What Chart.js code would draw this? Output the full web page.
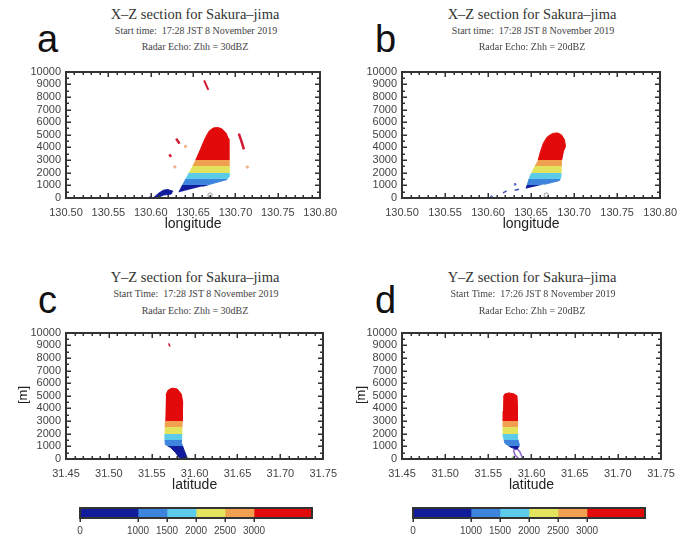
<!DOCTYPE html>
<html>
<head>
<meta charset="utf-8">
<script src="https://cdn.jsdelivr.net/npm/chart.js@4.4.1/dist/chart.umd.min.js"></script>
<style>
  html, body { margin: 0; padding: 0; background: #fff; }
  #page { position: relative; width: 685px; height: 542px; overflow: hidden; font-family: 'Liberation Sans', Arial, sans-serif; color: #222; }
  canvas { position: absolute; }
  .t { position: absolute; white-space: nowrap; transform: translate(-50%, -50%); line-height: 1; }
  .title { font-family: 'Liberation Serif', 'Times New Roman', serif; font-size: 14.5px; color: #333; }
  .sub { font-family: 'Liberation Serif', 'Times New Roman', serif; font-size: 10px; color: #444; }
  .letter { position: absolute; font-size: 38px; line-height: 38px; color: #111; }
  .unit { position: absolute; font-size: 13px; line-height: 1; transform: translate(-50%, -50%) rotate(-90deg); }
</style>
</head>
<body>
<div id="page">
  <canvas id="chart-a" width="345" height="175" style="left:0px;top:60px;"></canvas>
  <canvas id="chart-b" width="345" height="175" style="left:340px;top:60px;"></canvas>
  <canvas id="chart-c" width="345" height="175" style="left:0px;top:321px;"></canvas>
  <canvas id="chart-d" width="345" height="175" style="left:340px;top:321px;"></canvas>
  <canvas id="bar-left" width="290" height="42" style="left:60px;top:500px;"></canvas>
  <canvas id="bar-right" width="290" height="42" style="left:393px;top:500px;"></canvas>

  <div class="letter" style="left:37px;top:20px;">a</div>
  <div class="letter" style="left:375px;top:20px;">b</div>
  <div class="letter" style="left:38px;top:281px;">c</div>
  <div class="letter" style="left:375px;top:281px;">d</div>

  <div class="t title" style="left:195px;top:14px;">X–Z section for Sakura–jima</div>
  <div class="t sub" style="left:196px;top:31px;">Start time:&nbsp; 17:28 JST 8 November 2019</div>
  <div class="t sub" style="left:195px;top:47px;">Radar Echo: Zhh = 30dBZ</div>

  <div class="t title" style="left:532px;top:14px;">X–Z section for Sakura–jima</div>
  <div class="t sub" style="left:533px;top:31px;">Start time:&nbsp; 17:28 JST 8 November 2019</div>
  <div class="t sub" style="left:532px;top:47px;">Radar Echo: Zhh = 20dBZ</div>

  <div class="t title" style="left:195px;top:277px;">Y–Z section for Sakura–jima</div>
  <div class="t sub" style="left:196px;top:294px;">Start Time:&nbsp; 17:28 JST 8 November 2019</div>
  <div class="t sub" style="left:195px;top:311px;">Radar Echo: Zhh = 30dBZ</div>

  <div class="t title" style="left:532px;top:277px;">Y–Z section for Sakura–jima</div>
  <div class="t sub" style="left:533px;top:294px;">Start Time:&nbsp; 17:26 JST 8 November 2019</div>
  <div class="t sub" style="left:532px;top:311px;">Radar Echo: Zhh = 20dBZ</div>

  <div class="unit" style="left:22px;top:395px;">[m]</div>
  <div class="unit" style="left:360px;top:395px;">[m]</div>
</div>

<script>
/* global Chart */

// axis ticks
const lonTicks = [130.50, 130.55, 130.60, 130.65, 130.70, 130.75, 130.80];
const latTicks = [31.45, 31.50, 31.55, 31.60, 31.65, 31.70, 31.75];
const heightTicks = [0, 1000, 2000, 3000, 4000, 5000, 6000, 7000, 8000, 9000, 10000];

// echo height levels (m) and their colours
const echoLevels = [0, 1000, 1500, 2000, 2500, 3000];
const echoColors = ['#111c9c', '#3d84dc', '#5ccbea', '#e2e45e', '#f0a04e', '#e20a0a'];
const colorbarMax = 4000;

// a: X-Z, Zhh = 30dBZ  [longitude, height]
const echoA = [
  [130.6332, 460], [130.6355, 770], [130.6436, 1770], [130.6517, 2770], [130.6587, 3850],
  [130.6645, 4770], [130.6691, 5310], [130.6738, 5540], [130.6795, 5575], [130.6842, 5460],
  [130.6888, 5150], [130.6917, 4690], [130.6923, 4080], [130.6923, 2920], [130.6923, 1690],
  [130.6900, 1460], [130.6610, 920]
];
const groundA = [
  [130.603, 0], [130.609, 360], [130.615, 615], [130.620, 670], [130.626, 540],
  [130.624, 310], [130.615, 230], [130.607, 0]
];
const streaksA = [
  [[130.663, 9300], [130.668, 8550]],
  [[130.630, 4700], [130.634, 4300]],
  [[130.622, 3450], [130.624, 3250]],
  [[130.704, 5100], [130.707, 4500], [130.710, 3850]]
];
const dotsA = [[130.714, 2450], [130.6285, 2460], [130.641, 4080]];
const ringA = [[130.670, 230]];

// b: X-Z, Zhh = 20dBZ
const echoB = [
  [130.6442, 750], [130.6483, 1640], [130.6530, 2310], [130.6580, 2920], [130.6610, 3690],
  [130.6645, 4380], [130.6690, 4850], [130.6750, 5110], [130.6807, 5150], [130.6853, 5000],
  [130.6888, 4610], [130.6900, 4080], [130.6876, 3690], [130.6853, 2920], [130.6847, 1690],
  [130.6830, 1380], [130.6656, 1080]
];
const streaksB = [
  [[130.6173, 410], [130.6216, 560]],
  [[130.6309, 615], [130.6359, 690]]
];
const dotsB = [[130.6315, 1080], [130.6039, 100]];
const ringB = [[130.6676, 230]];

// c: Y-Z, Zhh = 30dBZ  [latitude, height]
const echoC = [
  [31.5666, 5080], [31.5693, 5460], [31.5739, 5610], [31.5797, 5540], [31.5844, 5150],
  [31.5861, 4540], [31.5855, 3000], [31.5849, 1690], [31.5844, 1310], [31.5878, 690],
  [31.5913, 80], [31.5890, 0], [31.5832, 0], [31.5774, 540], [31.5716, 920],
  [31.5658, 1150], [31.5653, 1610], [31.5658, 3000]
];
const streaksC = [[[31.5697, 9150], [31.5713, 8900]]];
const dotsC = [[31.5797, 0]];

// d: Y-Z, Zhh = 20dBZ
const echoD = [
  [31.5673, 4920], [31.5693, 5150], [31.5739, 5230], [31.5797, 5150], [31.5832, 5000],
  [31.5838, 4150], [31.5836, 3000], [31.5838, 1690], [31.5861, 1080], [31.5832, 770],
  [31.5763, 920], [31.5693, 1230], [31.5670, 1850], [31.5670, 3770]
];
const loopD = [
  [31.5790, 690], [31.5832, 850], [31.5867, 540], [31.5901, 0], [31.5855, 0],
  [31.5809, 310], [31.5790, 690]
];
const dotsD = [[31.5790, 50]];

function toXY(points) {
  return points.map(function(p) { return { x: p[0], y: p[1] }; });
}

// hard-edged colour bands by height, built from the y scale
function bandFill(context) {
  const chart = context.chart;
  if (!chart.chartArea) return echoColors[0];
  const y = chart.scales.y;
  const g = chart.ctx.createLinearGradient(0, y.getPixelForValue(0), 0, y.getPixelForValue(10000));
  for (let i = 0; i < echoLevels.length; i++) {
    const lo = echoLevels[i] / 10000;
    const hi = i + 1 < echoLevels.length ? echoLevels[i + 1] / 10000 : 1;
    g.addColorStop(lo, echoColors[i]);
    g.addColorStop(hi, echoColors[i]);
  }
  return g;
}

// plot frame plus inward major/minor ticks on all four sides
const frameTicks = {
  id: 'frameTicks',
  afterDraw: function(chart) {
    const opts = chart.config.options.frame || {};
    const ctx = chart.ctx;
    const a = chart.chartArea;
    const x = chart.scales.x;
    const L = Math.round(a.left), R = Math.round(a.right);
    const T = Math.round(a.top), B = Math.round(a.bottom);
    ctx.save();
    ctx.strokeStyle = '#333';
    ctx.lineWidth = 2;
    ctx.strokeRect(L, T, R - L, B - T);
    ctx.fillStyle = '#333';
    if (opts.ticks) {
      const y = chart.scales.y;
      const nx = Math.round((x.max - x.min) / opts.xMinor);
      for (let i = 0; i <= nx; i++) {
        const px = Math.round(x.getPixelForValue(x.min + i * opts.xMinor));
        const len = i % opts.xEvery === 0 ? 5 : 3;
        ctx.fillRect(px - 0.5, B - len, 1.5, len);
        ctx.fillRect(px - 0.5, T, 1.5, len);
      }
      const ny = Math.round((y.max - y.min) / opts.yMinor);
      for (let j = 0; j <= ny; j++) {
        const py = Math.round(y.getPixelForValue(y.min + j * opts.yMinor));
        const len = j % opts.yEvery === 0 ? 5 : 3;
        ctx.fillRect(L, py - 0.5, len, 1.5);
        ctx.fillRect(R - len, py - 0.5, len, 1.5);
      }
    }
    if (opts.barTicks) {
      x.ticks.forEach(function(t) {
        const px = Math.round(x.getPixelForValue(t.value));
        ctx.fillRect(px - 0.5, B, 1.5, 4);
      });
    }
    ctx.restore();
  }
};
Chart.register(frameTicks);

function plainNumber(v) {
  return String(Math.round(v));
}

function lineSet(points, color, width) {
  return {
    data: toXY(points), showLine: true, fill: false,
    borderColor: color, borderWidth: width, pointRadius: 0
  };
}

function dotSet(points, color, radius, hollow) {
  return {
    data: toXY(points), showLine: false,
    pointRadius: radius, pointBorderWidth: 1,
    pointBackgroundColor: hollow ? 'rgba(0,0,0,0)' : color,
    pointBorderColor: color
  };
}

function createSectionChart(id, cfg) {
  const ctx = document.getElementById(id).getContext('2d');
  const datasets = [{
    data: toXY(cfg.echo), showLine: true, fill: 'shape',
    backgroundColor: bandFill, borderColor: bandFill, borderWidth: 1, pointRadius: 0
  }];
  cfg.extra.forEach(function(d) { datasets.push(d); });

  return new Chart(ctx, {
    type: 'scatter',
    data: { datasets: datasets },
    options: {
      responsive: false,
      animation: false,
      devicePixelRatio: 1,
      frame: { ticks: true, xMinor: 0.01, xEvery: 5, yMinor: 500, yEvery: 2 },
      layout: { autoPadding: false, padding: { left: 0, right: cfg.padRight, top: 8, bottom: 0 } },
      scales: {
        x: {
          type: 'linear',
          min: cfg.ticks[0],
          max: cfg.ticks[cfg.ticks.length - 1],
          afterBuildTicks: function(scale) {
            scale.ticks = cfg.ticks.map(function(v) { return { value: v }; });
          },
          afterFit: function(scale) { scale.height = 37; },
          grid: { display: false, drawTicks: false },
          border: { display: false },
          ticks: {
            color: '#444', padding: 8, maxRotation: 0, autoSkip: false,
            font: { family: 'Liberation Sans', size: 11 },
            callback: function(v) { return Number(v).toFixed(2); }
          },
          title: {
            display: true, text: cfg.xTitle, color: '#222',
            font: { family: 'Liberation Sans', size: 14 },
            padding: { top: 0, bottom: 2 }
          }
        },
        y: {
          type: 'linear',
          min: 0,
          max: 10000,
          afterBuildTicks: function(scale) {
            scale.ticks = heightTicks.map(function(v) { return { value: v }; });
          },
          afterFit: function(scale) { scale.width = cfg.yWidth; },
          grid: { display: false, drawTicks: false },
          border: { display: false },
          ticks: {
            color: '#444', padding: 5, autoSkip: false,
            font: { family: 'Liberation Sans', size: 11 },
            callback: plainNumber
          }
        }
      },
      plugins: {
        legend: { display: false },
        tooltip: { enabled: false }
      }
    }
  });
}

function createColorbar(id) {
  const ctx = document.getElementById(id).getContext('2d');
  const edges = echoLevels.concat([colorbarMax]);
  const datasets = echoColors.map(function(c, i) {
    return {
      data: [[edges[i], edges[i + 1]]],
      backgroundColor: c,
      borderWidth: 0,
      grouped: false,
      barPercentage: 1,
      categoryPercentage: 1
    };
  });

  return new Chart(ctx, {
    type: 'bar',
    data: { labels: [''], datasets: datasets },
    options: {
      indexAxis: 'y',
      responsive: false,
      animation: false,
      devicePixelRatio: 1,
      frame: { ticks: false, barTicks: true },
      layout: { autoPadding: false, padding: { left: 20, right: 38, top: 8, bottom: 0 } },
      scales: {
        x: {
          type: 'linear',
          min: 0,
          max: colorbarMax,
          afterBuildTicks: function(scale) {
            scale.ticks = echoLevels.map(function(v) { return { value: v }; });
          },
          afterFit: function(scale) { scale.height = 24; },
          grid: { display: false, drawTicks: false },
          border: { display: false },
          ticks: {
            color: '#444', padding: 7, maxRotation: 0, autoSkip: false,
            font: { family: 'Liberation Sans', size: 10 },
            callback: plainNumber
          }
        },
        y: { display: false }
      },
      plugins: {
        legend: { display: false },
        tooltip: { enabled: false }
      }
    }
  });
}

const red = '#d41830';

createSectionChart('chart-a', {
  echo: echoA, ticks: lonTicks, xTitle: 'longitude', yWidth: 66, padRight: 20,
  extra: [
    { data: toXY(groundA), showLine: true, fill: 'shape', backgroundColor: echoColors[0], borderColor: echoColors[0], borderWidth: 1, pointRadius: 0 },
    lineSet(streaksA[0], red, 2),
    lineSet(streaksA[1], red, 2.5),
    lineSet(streaksA[2], red, 2.5),
    lineSet(streaksA[3], red, 2.5),
    dotSet(dotsA, '#f2b08a', 1.2, false),
    dotSet(ringA, '#999', 2.2, true),
    dotSet([[130.600, 0]], echoColors[0], 1.5, false)
  ]
});

createSectionChart('chart-b', {
  echo: echoB, ticks: lonTicks, xTitle: 'longitude', yWidth: 62, padRight: 24,
  extra: [
    lineSet(streaksB[0], '#4050b8', 1.5),
    lineSet(streaksB[1], '#4050b8', 1.5),
    dotSet(dotsB, '#6070c8', 1, false),
    dotSet(ringB, '#999', 2.2, true)
  ]
});

createSectionChart('chart-c', {
  echo: echoC, ticks: latTicks, xTitle: 'latitude', yWidth: 66, padRight: 20,
  extra: [
    lineSet(streaksC[0], red, 1.5),
    dotSet(dotsC, '#d8d860', 1.5, false)
  ]
});

createSectionChart('chart-d', {
  echo: echoD, ticks: latTicks, xTitle: 'latitude', yWidth: 62, padRight: 24,
  extra: [
    lineSet(loopD, '#8866cc', 1.5),
    dotSet(dotsD, '#7ccf70', 1.5, false)
  ]
});

createColorbar('bar-left');
createColorbar('bar-right');
</script>
</body>
</html>
